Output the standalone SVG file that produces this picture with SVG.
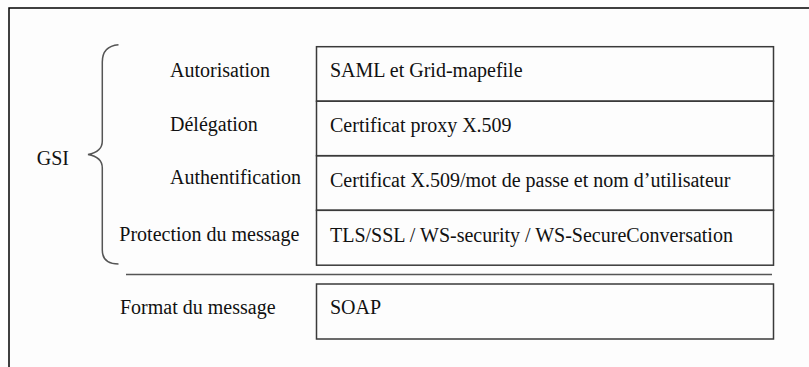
<svg xmlns="http://www.w3.org/2000/svg" width="809" height="367" viewBox="0 0 809 367">
  <style>
    .lbl { font-family: "Liberation Serif", "Times New Roman", serif; font-size: 20px; fill: #111; }
    .box { fill: none; stroke: #3a3a3a; stroke-width: 1.5; }
    .rule { fill: none; stroke: #555; stroke-width: 1.5; }
  </style>
  <rect x="0" y="0" width="809" height="367" fill="#fdfdfd"/>
  <!-- page frame (left and top edges) -->
  <path d="M9,367 L9,8 L809,8" fill="none" stroke="#000" stroke-width="1.5"/>

  <g id="connectors">
    <!-- curly brace grouping the GSI layers -->
    <path class="rule" d="M118.5,44.7 Q102.3,46 102.3,62 L102.3,141 Q102.3,152 88,154.5 Q102.3,157 102.3,168 L102.3,250 Q102.3,264 118.5,264"/>
    <!-- separator between GSI and message format -->
    <line class="rule" x1="126" y1="274.5" x2="772" y2="274.5"/>
  </g>

  <g id="gsi">
    <text class="lbl" x="36.7" y="165">GSI</text>
  </g>

  <g id="autorisation">
    <text class="lbl" x="170" y="76.5">Autorisation</text>
    <rect class="box" x="316.5" y="46.7" width="457" height="54.5"/>
    <text class="lbl" x="330" y="77">SAML et Grid-mapefile</text>
  </g>

  <g id="delegation">
    <text class="lbl" x="170" y="130.5">Délégation</text>
    <rect class="box" x="316.5" y="101.2" width="457" height="54.5"/>
    <text class="lbl" x="330" y="131.5">Certificat proxy X.509</text>
  </g>

  <g id="authentification">
    <text class="lbl" x="170" y="184">Authentification</text>
    <rect class="box" x="316.5" y="155.7" width="457" height="54.6"/>
    <text class="lbl" x="330" y="186.5">Certificat X.509/mot de passe et nom d’utilisateur</text>
  </g>

  <g id="protection">
    <text class="lbl" x="119.3" y="240.5">Protection du message</text>
    <rect class="box" x="316.5" y="210.3" width="457" height="54.9"/>
    <text class="lbl" x="330" y="241.5">TLS/SSL / WS-security / WS-SecureConversation</text>
  </g>

  <g id="format">
    <text class="lbl" x="120" y="313.5">Format du message</text>
    <rect class="box" x="316.5" y="284" width="457" height="55"/>
    <text class="lbl" x="330" y="313.5">SOAP</text>
  </g>
</svg>
